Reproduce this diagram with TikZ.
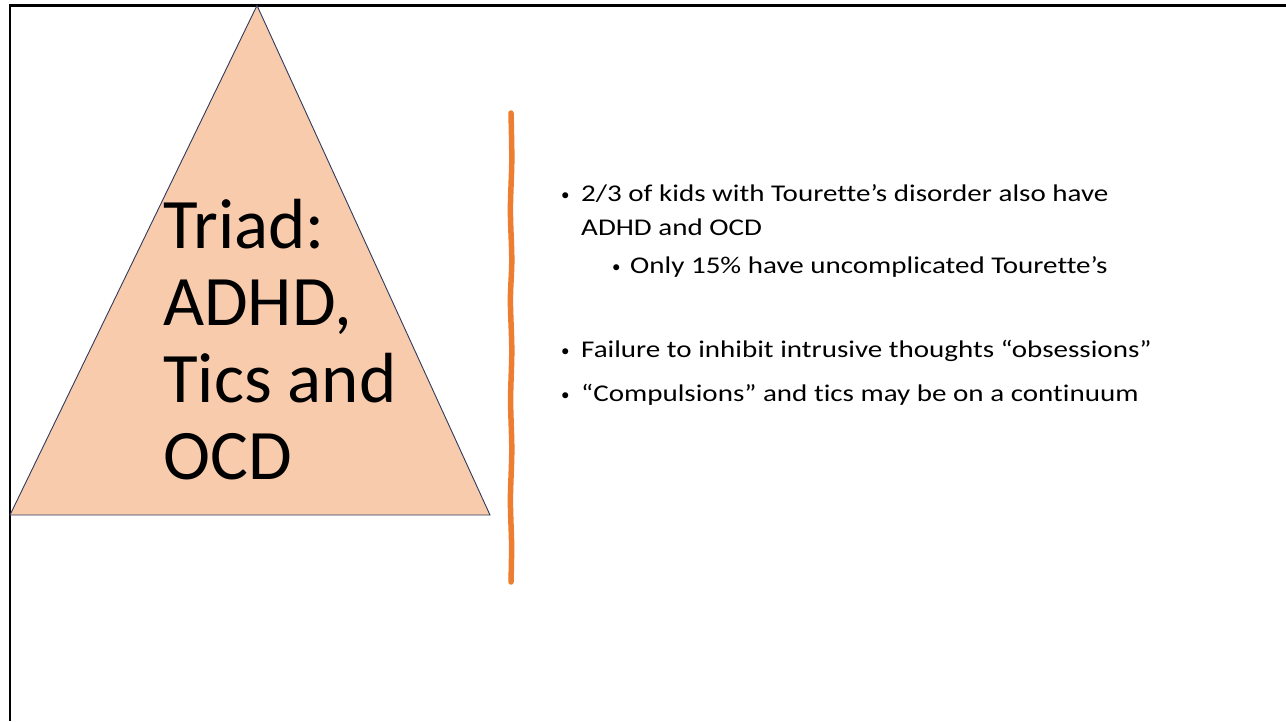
\documentclass[tikz,border=0pt]{standalone}
\usepackage{fontspec}
\setmainfont[Ligatures=NoCommon]{Carlito}
\newfontfamily\bodyfont[FakeStretch=1.21,Ligatures=NoCommon]{Carlito}
\definecolor{tri}{HTML}{F8CBAD}
\definecolor{triline}{HTML}{2F3B5C}
\definecolor{accent}{HTML}{ED7D31}
\begin{document}
\begin{tikzpicture}[x=1pt,y=-1pt,
  title/.style={anchor=base west,inner sep=0pt,font=\fontsize{71}{77}\selectfont},
  body/.style={anchor=base west,inner sep=0pt,font=\bodyfont\fontsize{24}{28}\selectfont},
  dot/.style={anchor=base west,inner sep=0pt,font=\fontsize{17}{20}\selectfont}]
\useasboundingbox (0,0) rectangle (1286,721);
\fill[white] (0,0) rectangle (1286,721);
% frame
\draw[line width=2.5pt] (10,721) -- (10,5.5) -- (1286,5.5);
% triangle
\coordinate (apex) at (257,5.5);
\coordinate (bl) at (10,515);
\coordinate (br) at (490,515);
\draw[fill=tri,draw=triline,line width=0.9pt,line join=miter] (apex) -- (br) -- (bl) -- cycle;
% title
\node[title] (t1) at (163,248) {Triad:};
\node[title] (t2) at (163,325) {ADHD,};
\node[title] (t3) at (163,402) {Tics and};
\node[title] (t4) at (163,479) {OCD};
% orange divider
\draw[accent,line width=5.5pt,line cap=round] plot[smooth] coordinates {(511,113) (511.8,160) (510.4,210) (511.8,260) (510.4,300) (511.8,350) (510.6,400) (511.8,450) (510.4,500) (511.6,545) (511,582)};
% bullets
\node[dot] (b1) at (561,200) {•};
\node[body] (l1) at (581,201) {2/3 of kids with Tourette’s disorder also have};
\node[body] (l2) at (581,235) {ADHD and OCD};
\node[dot] (b2) at (612,272) {•};
\node[body] (l3) at (630,273) {Only 15\% have uncomplicated Tourette’s};
\node[dot] (b3) at (561,356) {•};
\node[body] (l4) at (581,357) {Failure to inhibit intrusive thoughts “obsessions”};
\node[dot] (b4) at (561,400) {•};
\node[body] (l5) at (581,401) {“Compulsions” and tics may be on a continuum};
\end{tikzpicture}
\end{document}
